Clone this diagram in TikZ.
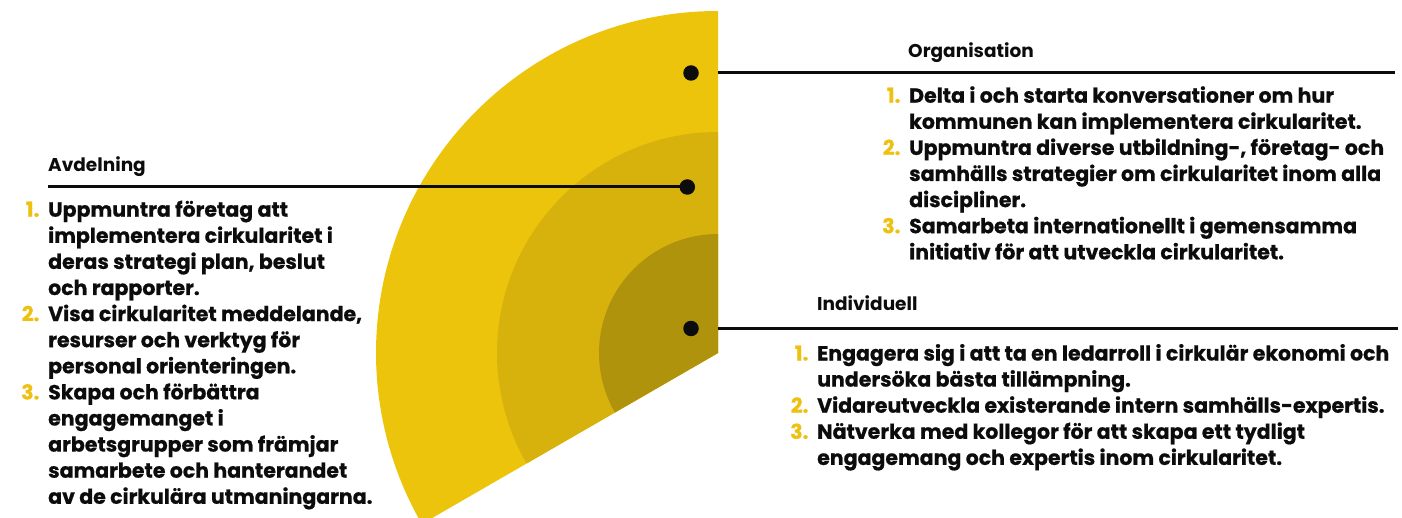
\documentclass[tikz,border=0pt]{standalone}
\usepackage{fontspec}
\setmainfont{Poppins}
\newfontfamily\bodyfont{Poppins}[BoldFeatures={FakeBold=0.7}]
\usepackage{xcolor}
\definecolor{ringouter}{RGB}{236,196,12}
\definecolor{ringmid}{RGB}{216,178,12}
\definecolor{ringinner}{RGB}{176,147,12}
\definecolor{numyellow}{RGB}{238,192,18}
\definecolor{ink}{RGB}{12,12,12}
\newcommand\nr[1]{\llap{\textcolor{numyellow}{#1}\hspace{8.8pt}}}
\tikzset{
  dot/.style={circle,fill=ink,inner sep=0pt,minimum size=15.5pt},
  leader/.style={draw=ink,line width=3pt},
  heading/.style={inner sep=0pt,anchor=base west,text=ink,font=\fontsize{18.5}{22}\selectfont\bfseries},
  block/.style={inner sep=0pt,anchor=base west,text=ink,font=\bodyfont\fontsize{20.5}{26.1}\selectfont\bfseries},
}
\begin{document}
\begin{tikzpicture}[x=1pt,y=-1pt]
\useasboundingbox (0,0) rectangle (1402,518);
% three nested sectors sharing one centre
\begin{scope}
  \clip (0,0) rectangle (1402,518);
  \fill[ringouter] (718,353) -- ++(270:342) arc[start angle=270,end angle=150,radius=342] -- cycle;
  \fill[ringmid]   (718,353) -- ++(270:221) arc[start angle=270,end angle=150,radius=221] -- cycle;
  \fill[ringinner] (718,353) -- ++(270:119) arc[start angle=270,end angle=150,radius=119] -- cycle;
\end{scope}

% markers
\node[dot] (dorg) at (691,73) {};
\node[dot] (davd) at (687.3,187) {};
\node[dot] (dind) at (691,328.5) {};

% leader lines
\coordinate (avdstart) at (48,187);
\coordinate (orgstart) at (718,72.7);
\coordinate (orgend)   at (1395,72.7);
\coordinate (indstart) at (718,328.8);
\coordinate (indend)   at (1398,328.8);
\draw[leader] (avdstart) -- (davd.center);
\draw[leader] (orgstart) -- (orgend);
\draw[leader] (indstart) -- (indend);

% headings
\node[heading] (havd) at (48,171.7) {Avdelning};
\node[heading] (horg) at (908,57.3) {Organisation};
\node[heading] (hind) at (817,311) {Individuell};

% lists
\node[block] (tavd) at (48,216.7) {\begin{tabular}[t]{@{}l@{}}
\nr{1.}Uppmuntra företag att\\
implementera cirkularitet i\\
deras strategi plan, beslut\\
och rapporter.\\
\nr{2.}Visa cirkularitet meddelande,\\
resurser och verktyg för\\
personal orienteringen.\\
\nr{3.}Skapa och förbättra\\
engagemanget i\\
arbetsgrupper som främjar\\
samarbete och hanterandet\\
av de cirkulära utmaningarna.
\end{tabular}};

\node[block] (torg) at (909,102.7) {\begin{tabular}[t]{@{}l@{}}
\nr{1.}Delta i och starta konversationer om hur\\
kommunen kan implementera cirkularitet.\\
\nr{2.}Uppmuntra diverse utbildning-, företag- och\\
samhälls strategier om cirkularitet inom alla\\
discipliner.\\
\nr{3.}Samarbeta internationellt i gemensamma\\
initiativ för att utveckla cirkularitet.
\end{tabular}};

\node[block] (tind) at (817,360.5) {\begin{tabular}[t]{@{}l@{}}
\nr{1.}Engagera sig i att ta en ledarroll i cirkulär ekonomi och\\
undersöka bästa tillämpning.\\
\nr{2.}Vidareutveckla existerande intern samhälls-expertis.\\
\nr{3.}Nätverka med kollegor för att skapa ett tydligt\\
engagemang och expertis inom cirkularitet.
\end{tabular}};
\end{tikzpicture}
\end{document}
